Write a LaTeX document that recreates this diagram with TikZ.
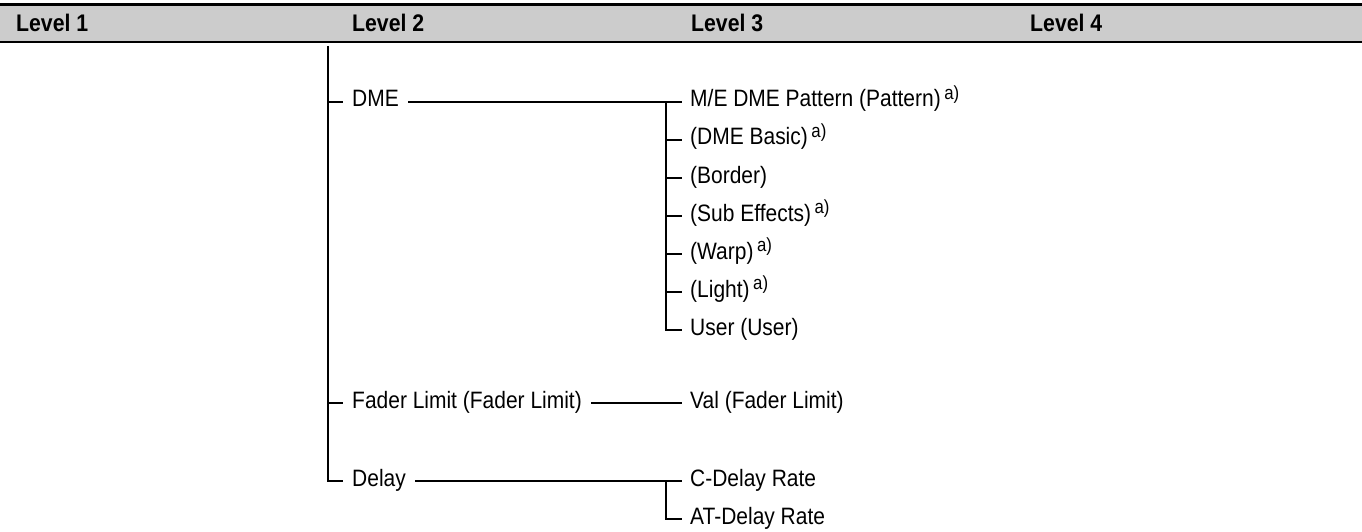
\documentclass[tikz,border=0pt]{standalone}
\usepackage{fontspec}
\setmainfont{Liberation Sans}[FakeStretch=0.885]
\usetikzlibrary{positioning, calc}
\definecolor{hdrgray}{RGB}{204,204,204}
\newcommand{\fnmark}{\hspace{0.15em}\raisebox{7.5pt}{\fontsize{19}{19}\selectfont a)}}

\begin{document}
\begin{tikzpicture}[x=1pt, y=-1pt,
		font=\fontsize{23.7}{28}\selectfont,
		hdr/.style={anchor=base west, inner sep=0pt, font=\fontsize{24}{28}\selectfont\bfseries},
		itm/.style={anchor=west, inner ysep=0pt, inner xsep=8pt, text height=10pt, text depth=0pt},
		lvl/.style={itm, inner xsep=9pt},
		ln/.style={line width=2pt}]
		\useasboundingbox (0,0) rectangle (1362,532);
		% header
		\fill[hdrgray] (0,6) rectangle (1362,41);
		\draw[line width=3pt] (0,5) -- (1362,5);
		\draw[line width=2pt] (0,42) -- (1362,42);
		\node[hdr] (h1) at (16,31.5) {Level 1};
		\node[hdr] (h2) at (352,31.5) {Level 2};
		\node[hdr] (h3) at (691,31.5) {Level 3};
		\node[hdr] (h4) at (1030,31.5) {Level 4};
		% level 2
		\coordinate (top) at (328,46);
		\node[lvl] (dme) at (343,102) {DME};
		\node[lvl] (fader) at (343,403) {Fader Limit (Fader Limit)};
		\node[lvl] (delay) at (343,481) {Delay};
		% level 3
		\node[itm] (pat) at (682,102) {M/E DME Pattern (Pattern)\fnmark};
		\node[itm] (basic) at (682,140) {(DME Basic)\fnmark};
		\node[itm] (border) at (682,178) {(Border)};
		\node[itm] (sub) at (682,216) {(Sub Effects)\fnmark};
		\node[itm] (warp) at (682,254) {(Warp)\fnmark};
		\node[itm] (light) at (682,292) {(Light)\fnmark};
		\node[itm] (user) at (682,330) {User (User)};
		\node[itm] (val) at (682,403) {Val (Fader Limit)};
		\node[itm] (cdel) at (682,481) {C-Delay Rate};
		\node[itm] (atdel) at (682,519) {AT-Delay Rate};
		% tree lines
		\draw[ln] (top) |- (delay.west);
		\draw[ln] (top |- dme.west) -- (dme.west);
		\draw[ln] (top |- fader.west) -- (fader.west);
		\draw[ln] (dme.east) -- (pat.west);
		\coordinate (br1) at (666,102);
		\draw[ln] (br1) |- (user.west);
		\draw[ln] (br1 |- basic.west) -- (basic.west);
		\draw[ln] (br1 |- border.west) -- (border.west);
		\draw[ln] (br1 |- sub.west) -- (sub.west);
		\draw[ln] (br1 |- warp.west) -- (warp.west);
		\draw[ln] (br1 |- light.west) -- (light.west);
		\draw[ln] (fader.east) -- (val.west);
		\draw[ln] (delay.east) -- (cdel.west);
		\coordinate (br2) at (666,481);
		\draw[ln] (br2) |- (atdel.west);
	\end{tikzpicture}
\end{document}
